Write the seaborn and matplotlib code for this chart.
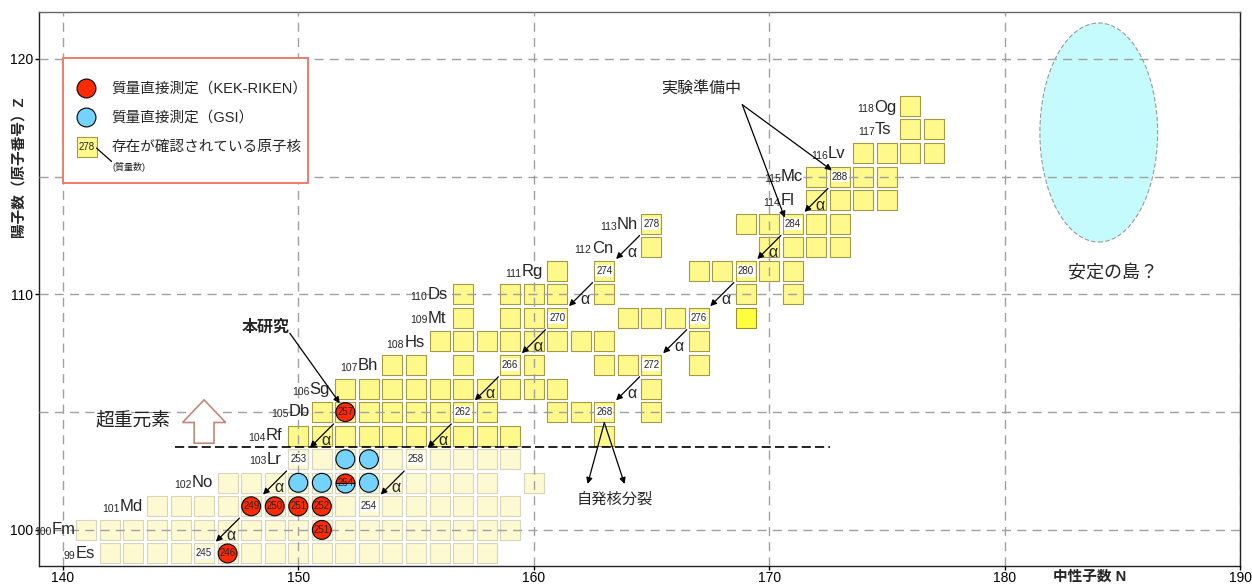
import numpy as np
import pandas as pd
import matplotlib
matplotlib.use("Agg")
import matplotlib.pyplot as plt
import seaborn as sns
from matplotlib.patches import Rectangle, Ellipse, FancyArrow

# ---------------- data ----------------
# neutron numbers N of known nuclei, one list per proton number Z
N_Z099 = [142, 143, 144, 145, 146, 147, 148, 149, 150, 151, 152, 153, 154, 155, 156, 157, 158]
N_Z100 = [141, 142, 143, 144, 145, 146, 147, 148, 149, 150, 151, 152, 153, 154, 155, 156, 157, 158, 159]
N_Z101 = [144, 145, 146, 147, 148, 149, 150, 151, 152, 153, 154, 155, 156, 157, 158, 159]
N_Z102 = [147, 148, 149, 150, 151, 152, 153, 154, 155, 156, 157, 158, 160]
N_Z103 = [150, 151, 152, 153, 154, 155, 156, 157, 158, 159]
N_Z104 = [150, 151, 152, 153, 154, 155, 156, 157, 158, 159, 163]
N_Z105 = [151, 152, 153, 154, 155, 156, 157, 158, 161, 162, 163, 165]
N_Z106 = [152, 153, 154, 155, 156, 157, 158, 159, 160, 161, 165]
N_Z107 = [154, 155, 157, 159, 160, 163, 164, 165, 167]
N_Z108 = [156, 157, 158, 159, 160, 161, 162, 163, 167]
N_Z109 = [157, 159, 160, 161, 164, 165, 166, 167, 169]
N_Z110 = [157, 159, 160, 161, 163, 169, 171]
N_Z111 = [161, 163, 167, 168, 169, 170, 171]
N_Z112 = [165, 170, 171, 172, 173]
N_Z113 = [165, 169, 170, 171, 172, 173]
N_Z114 = [172, 173, 174, 175]
N_Z115 = [172, 173, 174, 175]
N_Z116 = [174, 175, 176, 177]
N_Z117 = [176, 177]
N_Z118 = [176]
rows_N = [N_Z099, N_Z100, N_Z101, N_Z102, N_Z103, N_Z104, N_Z105, N_Z106, N_Z107, N_Z108,
          N_Z109, N_Z110, N_Z111, N_Z112, N_Z113, N_Z114, N_Z115, N_Z116, N_Z117, N_Z118]
rows_Z = [99, 100, 101, 102, 103, 104, 105, 106, 107, 108,
          109, 110, 111, 112, 113, 114, 115, 116, 117, 118]
highlight_N, highlight_Z = [169], [109]

# directly measured masses
red_N = [147, 151, 148, 149, 150, 151, 152]          # KEK-RIKEN
red_Z = [99, 100, 101, 101, 101, 101, 105]
blue_N = [150, 151, 153, 152, 153]                   # GSI
blue_Z = [102, 102, 102, 103, 103]
both_N, both_Z = [152], [102]                        # measured by both

# cells that carry a mass-number label
lab_N = [146, 150, 155, 153, 157, 159, 161, 163, 165, 163, 165, 167, 169, 171, 173]
lab_Z = [99, 103, 103, 101, 105, 107, 109, 111, 113, 105, 107, 109, 111, 113, 115]

# alpha-decay parents (arrow to N-2, Z-2)
alpha_N = [173, 171, 169, 167, 165, 165, 163, 161, 159, 157, 152, 155, 150, 148]
alpha_Z = [115, 113, 111, 109, 107, 113, 111, 109, 107, 105, 105, 103, 103, 101]

# element labels
elem_sym = ["Es", "Fm", "Md", "No", "Lr", "Rf", "Db", "Sg", "Bh", "Hs",
            "Mt", "Ds", "Rg", "Cn", "Nh", "Fl", "Mc", "Lv", "Ts", "Og"]
elem_Z = [99, 100, 101, 102, 103, 104, 105, 106, 107, 108,
          109, 110, 111, 112, 113, 114, 115, 116, 117, 118]
elem_x = [141.36, 140.55, 143.41, 146.38, 149.29, 149.34, 150.49, 151.34, 153.39, 155.37,
          156.29, 156.35, 160.40, 163.37, 164.43, 171.08, 171.44, 173.25, 175.19, 175.40]
elem_y = [99.0, 100.0, 100.98, 102.0, 103.0, 104.0, 105.02, 105.95, 106.96, 107.95,
          108.99, 109.98, 110.97, 111.96, 112.95, 113.98, 115.0, 115.97, 116.99, 117.95]

x_ticks = [140, 150, 160, 170, 180, 190]
y_ticks = [100, 110, 120]

# ---------------- style ----------------
sns.set_theme(style="white")
plt.rcParams["font.family"] = ["Liberation Sans", "Noto Sans CJK JP"]
plt.rcParams["axes.unicode_minus"] = False

fig = plt.figure(figsize=(12.52, 5.84), dpi=100)
ax = fig.add_axes([39.3 / 1252, 1 - 565.7 / 584, (1240 - 39.3) / 1252, (565.7 - 11.7) / 584])
ax.set_xlim(139, 190)
ax.set_ylim(98.48, 122.0)

PALE, PALE_E = "#fdfad2", "#d8d5bd"
YEL, YEL_E = "#fff98c", "#a39b48"
HIL, HIL_E = "#ffff3c", "#9a9030"
RED, BLUE = "#ff2a00", "#74d3fc"
CELL_S = 14.8 ** 2
CIRC_S = 13.6 ** 2

rec = []
for z, ns in zip(rows_Z, rows_N):
    for n in ns:
        kind = "pale" if z <= 103 else "known"
        if (n, z) in zip(highlight_N, highlight_Z):
            kind = "highlight"
        rec.append({"N": n, "Z": z, "kind": kind})
cells = pd.DataFrame(rec)

styles = {"pale": (PALE, PALE_E), "known": (YEL, YEL_E), "highlight": (HIL, HIL_E)}
for kind, (fc, ec) in styles.items():
    sub = cells[cells["kind"] == kind]
    sns.scatterplot(data=sub, x="N", y="Z", marker="s", s=CELL_S, color=fc,
                    edgecolor=ec, linewidth=0.8, legend=False, ax=ax, zorder=1)

# grid (drawn above the cells)
ax.set_xticks(x_ticks)
ax.set_yticks(y_ticks)
ax.set_yticks([105, 115], minor=True)
ax.set_axisbelow(False)
ax.grid(True, which="both", axis="y", color="#a0a0a0", lw=1.0, ls=(0, (6.5, 4.5)))
ax.grid(True, which="major", axis="x", color="#a0a0a0", lw=1.0, ls=(0, (6.5, 4.5)))
for gl in ax.get_xgridlines() + ax.get_ygridlines() + ax.yaxis.get_minorticklines():
    gl.set_zorder(1.5)
ax.tick_params(which="minor", length=0)
ax.tick_params(which="major", direction="out", length=3, width=1, colors="black",
               labelsize=10, bottom=True, left=True)
ax.tick_params(axis="x", pad=0.5)
ax.tick_params(axis="y", pad=1.5)
for sp in ax.spines.values():
    sp.set_color("#222222")
    sp.set_linewidth(1.0)
ax.spines["top"].set_color("#666666")

# measured masses
meas = pd.DataFrame({"N": red_N + blue_N, "Z": red_Z + blue_Z,
                     "lab": ["KEK"] * len(red_N) + ["GSI"] * len(blue_N)})
sns.scatterplot(data=meas, x="N", y="Z", hue="lab", palette={"KEK": RED, "GSI": BLUE},
                marker="o", s=CIRC_S, edgecolor="black", linewidth=0.8, legend=False,
                ax=ax, zorder=3)
ax.plot(both_N, both_Z, ls="none", marker="o", markersize=13.6, fillstyle="top",
        markerfacecolor=RED, markerfacecoloralt=BLUE, markeredgecolor="black",
        markeredgewidth=0.8, zorder=3)

for n, z in zip(red_N + both_N, red_Z + both_Z):
    ax.text(n, z, str(n + z), ha="center", va="center", fontsize=7, zorder=4)
for n, z in zip(lab_N, lab_Z):
    ax.text(n, z, str(n + z), ha="center", va="center", fontsize=7, zorder=4,
            bbox=dict(fc="white", ec="none", pad=0.6))

# alpha decays
for n, z in zip(alpha_N, alpha_Z):
    ax.annotate("", xy=(n - 1.5, z - 1.5), xytext=(n - 0.5, z - 0.5),
                arrowprops=dict(arrowstyle="-|>", color="black", lw=0.9,
                                mutation_scale=9, shrinkA=0, shrinkB=0), zorder=5)
    ax.text(n - 0.84, z - 1.22, "α", ha="center", va="center", fontsize=11.5, zorder=5)

# element labels
for sym, z, x, y in zip(elem_sym, elem_Z, elem_x, elem_y):
    t = ax.text(x, y, sym, ha="right", va="center", fontsize=12, zorder=5)
    ax.annotate(str(z), xy=(0, 0), xycoords=t, xytext=(-0.2, 0.3),
                textcoords="offset points", ha="right", va="bottom", fontsize=7.5, zorder=5)

# superheavy boundary
ax.plot([144.75, 172.6], [103.5, 103.5], color="black", lw=1.2, ls=(0, (5.5, 2.5)), zorder=4)
ax.add_patch(FancyArrow(146.0, 103.68, 0, 0.88, width=0.84, head_width=1.83,
                        head_length=0.96, length_includes_head=False,
                        fc="white", ec="#c48878", lw=1.2, zorder=4))
ax.text(143.0, 104.6, "超重元素", ha="center", va="center", fontsize=13.5, color="#222222")

# this work
ax.text(148.6, 108.6, "本研究", ha="center", va="center", fontsize=11.5,
        fontweight="bold", zorder=5)
ax.annotate("", xy=(151.76, 105.38), xytext=(149.64, 108.35),
            arrowprops=dict(arrowstyle="-|>", color="black", lw=0.9,
                            mutation_scale=9, shrinkA=0, shrinkB=0), zorder=5)

# spontaneous fission
for xe in [162.29, 163.86]:
    ax.annotate("", xy=(xe, 101.95), xytext=(163.0, 104.55),
                arrowprops=dict(arrowstyle="-|>", color="black", lw=0.9,
                                mutation_scale=9, shrinkA=0, shrinkB=0), zorder=5)
ax.text(163.44, 101.3, "自発核分裂", ha="center", va="center", fontsize=11, zorder=5)

# experiments in preparation
ax.text(167.11, 118.7, "実験準備中", ha="center", va="center", fontsize=11.5, zorder=5)
for xe, ye in [(172.66, 115.27), (170.66, 113.26)]:
    ax.annotate("", xy=(xe, ye), xytext=(168.86, 118.05),
                arrowprops=dict(arrowstyle="-|>", color="black", lw=0.9,
                                mutation_scale=9, shrinkA=0, shrinkB=0), zorder=5)

# island of stability
ax.add_patch(Ellipse((184.0, 116.87), 5.0, 9.3, fc="#c5fbfc", ec="#999999",
                     lw=0.8, ls=(0, (4, 2)), zorder=2))
ax.text(184.6, 110.9, "安定の島？", ha="center", va="center", fontsize=13, zorder=5)

# legend box
ax.add_patch(Rectangle((140.0, 114.73), 10.4, 5.3, fc="white", ec="#f07a6a", lw=1.4, zorder=3))
ax.scatter([141.0], [118.75], s=CIRC_S, c=RED, edgecolors="black", linewidths=0.8, zorder=4)
ax.scatter([141.0], [117.52], s=CIRC_S, c=BLUE, edgecolors="black", linewidths=0.8, zorder=4)
ax.scatter([141.02], [116.24], marker="s", s=CELL_S, c=YEL, edgecolors=YEL_E,
           linewidths=0.8, zorder=4)
ax.text(141.02, 116.24, "278", ha="center", va="center", fontsize=7, zorder=5)
ax.plot([141.43, 142.07], [116.21, 115.64], color="black", lw=0.9, zorder=5)
ax.text(142.07, 118.75, "質量直接測定（KEK-RIKEN）", ha="left", va="center", fontsize=10.5, zorder=5)
ax.text(142.07, 117.52, "質量直接測定（GSI）", ha="left", va="center", fontsize=10.5, zorder=5)
ax.text(142.07, 116.27, "存在が確認されている原子核", ha="left", va="center", fontsize=10.5, zorder=5)
ax.text(142.11, 115.41, "(質量数)", ha="left", va="center", fontsize=6.5, zorder=5)

# axis titles
ax.set_xlabel("中性子数 N", fontsize=10.5, fontweight="bold")
ax.xaxis.set_label_coords(0.875, -0.0204)
ax.xaxis.label.set_va("center")
ax.set_ylabel("陽子数（原子番号）Z", fontsize=10.5, fontweight="bold")
ax.yaxis.set_label_coords(-0.0177, 0.7197)
ax.yaxis.label.set_va("center")

fig.savefig("out.png", dpi=100)
